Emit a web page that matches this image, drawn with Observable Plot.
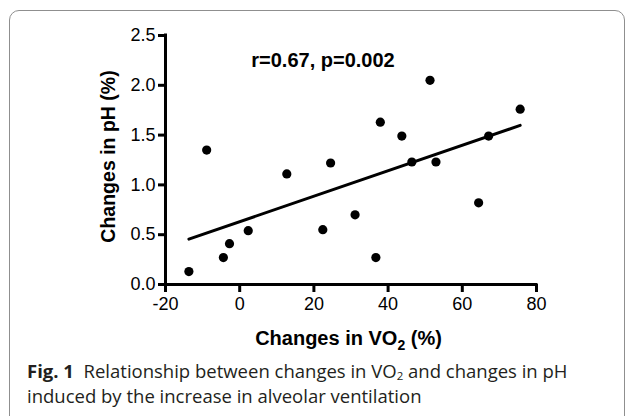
<!DOCTYPE html>
<html>
<head>
<meta charset="utf-8">
<script src="https://cdn.jsdelivr.net/npm/d3@7"></script>
<script src="https://cdn.jsdelivr.net/npm/@observablehq/plot@0.6"></script>
<style>
  html, body { margin: 0; padding: 0; background: #fff; width: 629px; height: 416px; overflow: hidden; }
  #wrap { position: relative; width: 629px; height: 416px; }
  #frame { position: absolute; left: 9px; top: 10px; width: 616px; height: 420px;
           border: 1.5px solid #8f8f8f; border-radius: 10px; box-sizing: border-box; }
  #chart { position: absolute; left: 0; top: 0; }
  #caption { position: absolute; left: 27px; top: 358px; font-family: "Open Sans", sans-serif;
             font-size: 18.5px; line-height: 25px; color: #231f20; white-space: nowrap; letter-spacing: 0; }
  #caption b { font-weight: 700; }
  #caption sub { font-size: 0.62em; vertical-align: baseline; position: relative; top: 0.2em; line-height: 0; }
</style>
</head>
<body>
<div id="wrap">
  <div id="frame"></div>
  <div id="chart"></div>
  <div id="caption"><b>Fig. 1</b>&nbsp; Relationship between changes in VO<sub>2</sub> and changes in pH<br>induced by the increase in alveolar ventilation</div>
</div>
<script>
// Data
const vo2Change = [-13.7, -8.9, -4.4, -2.75, 2.3, 12.7, 22.4, 24.5, 31.1, 36.7, 37.9, 43.7, 46.4, 51.3, 52.9, 64.4, 67.1, 75.6];
const phChange  = [0.13, 1.35, 0.27, 0.41, 0.54, 1.11, 0.55, 1.22, 0.70, 0.27, 1.63, 1.49, 1.23, 2.05, 1.23, 0.82, 1.49, 1.76];
const xTicks = [-20, 0, 20, 40, 60, 80];
const yTicks = [0, 0.5, 1.0, 1.5, 2.0, 2.5];
const xDomain = [-20, 80];
const yDomain = [0, 2.5];
const annotation = ["r=0.67, p=0.002"];
const xLabel = ["Changes in VO", "2", " (%)"];
const yLabel = "Changes in pH (%)";

const data = vo2Change.map((x, i) => ({x, y: phChange[i]}));
const FONT = "Arial, 'Liberation Sans', Helvetica, sans-serif";

const plot = Plot.plot({
  width: 629,
  height: 330,
  marginLeft: 165,
  marginRight: 93,
  marginTop: 35,
  marginBottom: 46,
  x: {domain: xDomain},
  y: {domain: yDomain},
  style: {fontFamily: FONT, fontSize: "18px", color: "black", background: "transparent", overflow: "visible"},
  marks: [
    Plot.axisY({ticks: yTicks, tickFormat: d => d.toFixed(1), tickSize: 7, strokeWidth: 3, tickPadding: 3, label: null, fontSize: 18}),
    Plot.axisX({ticks: xTicks, tickFormat: d => String(d), tickSize: 8, strokeWidth: 3, tickPadding: 5, label: null, fontSize: 18}),
    Plot.ruleX([xDomain[0]], {y1: yDomain[0], y2: yDomain[1], strokeWidth: 3, strokeLinecap: "square"}),
    Plot.ruleY([yDomain[0]], {x1: xDomain[0], x2: xDomain[1], strokeWidth: 3, strokeLinecap: "square"}),
    Plot.linearRegressionY(data, {x: "x", y: "y", ci: 0, stroke: "black", strokeWidth: 3}),
    Plot.dot(data, {x: "x", y: "y", r: 4.6, fill: "black", stroke: null}),
    Plot.text(annotation, {frameAnchor: "top", dx: -28, dy: 25, lineAnchor: "middle", fontWeight: "bold", fontSize: 20, fill: "black"})
  ]
});

document.getElementById("chart").appendChild(plot);

// Axis titles with a real subscript
const xs = plot.scale("x"), ys = plot.scale("y");
const svg = d3.select(plot);
const xMid = (xs.range[0] + xs.range[1]) / 2;
const yMid = (ys.range[0] + ys.range[1]) / 2;

const xt = svg.append("text")
  .attr("x", xMid - 2).attr("y", ys.range[0] + 61)
  .attr("text-anchor", "middle")
  .attr("font-family", FONT)
  .attr("font-weight", "bold").attr("font-size", 20).attr("fill", "black");
xt.append("tspan").text(xLabel[0]);
xt.append("tspan").attr("font-size", 14).attr("dy", 5).text(xLabel[1]);
xt.append("tspan").attr("dy", -5).text(xLabel[2]);

svg.append("text")
  .attr("transform", `translate(${xs.range[0] - 50},${yMid - 3}) rotate(-90)`)
  .attr("text-anchor", "middle")
  .attr("font-family", FONT)
  .attr("font-weight", "bold").attr("font-size", 19.5).attr("fill", "black")
  .text(yLabel);
</script>
</body>
</html>
